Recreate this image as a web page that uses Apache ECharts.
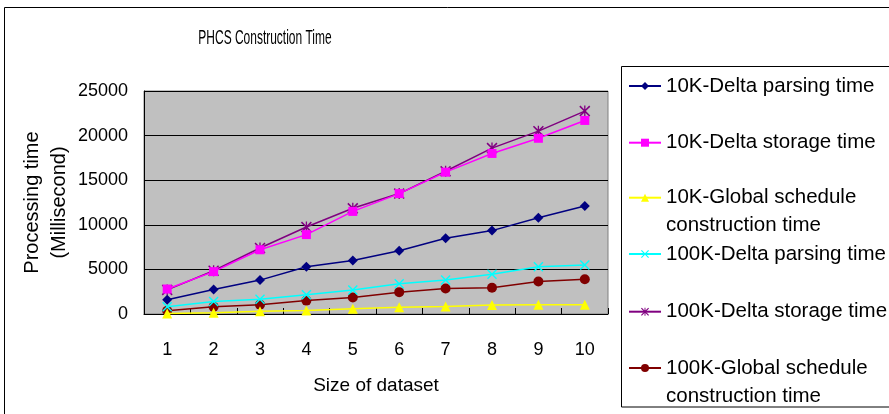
<!DOCTYPE html>
<html>
<head>
<meta charset="utf-8">
<script src="https://cdn.jsdelivr.net/npm/echarts@6/dist/echarts.min.js"></script>
<style>
html,body{margin:0;padding:0;background:#fff;}
#main{width:889px;height:414px;}
</style>
</head>
<body>
<div id="main"></div>
<script>
const titleText = 'PHCS Construction Time';
const categories = ['1','2','3','4','5','6','7','8','9','10'];
const yTicks = [0, 5000, 10000, 15000, 20000, 25000];
const names = [
  '10K-Delta parsing time',
  '10K-Delta storage time',
  '10K-Global schedule\nconstruction time',
  '100K-Delta parsing time',
  '100K-Delta storage time',
  '100K-Global schedule\nconstruction time'
];
const delta10kParsing = [1600, 2750, 3800, 5300, 6000, 7100, 8500, 9350, 10800, 12100];
const delta10kStorage = [2800, 4750, 7200, 8900, 11500, 13500, 15900, 18000, 19700, 21700];
const global10k = [50, 150, 300, 400, 600, 750, 850, 1000, 1050, 1050];
const delta100kParsing = [800, 1400, 1650, 2150, 2700, 3400, 3800, 4450, 5300, 5500];
const delta100kStorage = [2700, 4850, 7400, 9750, 11850, 13500, 16000, 18600, 20500, 22750];
const global100k = [370, 800, 1050, 1500, 1850, 2450, 2850, 2950, 3650, 3900];

const seriesData = [delta10kParsing, delta10kStorage, global10k, delta100kParsing, delta100kStorage, global100k];
const colors = ['#000080', '#FF00FF', '#FFFF00', '#00FFFF', '#800080', '#800000'];
const xPath = 'path://M0,1L1,0L5,4L9,0L10,1L6,5L10,9L9,10L5,6L1,10L0,9L4,5Z';
const starPath = 'path://M0,1L1,0L5,4L9,0L10,1L6,5L10,9L9,10L5,6L1,10L0,9L4,5ZM4.4,0L5.6,0L5.6,10L4.4,10Z';
const symbols = ['diamond', 'rect', 'triangle', xPath, starPath, 'circle'];
const symbolSizes = [10, 9, 10, 10, 11, 10];
const legendCenters = [86, 142.7, 197.7, 254, 311.7, 368];

const FONT = "'Liberation Sans', Arial, sans-serif";
const chart = echarts.init(document.getElementById('main'), null, {renderer: 'canvas'});

const series = names.map((n, i) => ({
  name: n,
  type: 'line',
  data: seriesData[i],
  symbol: symbols[i],
  symbolSize: symbolSizes[i],
  showAllSymbol: true,
  lineStyle: {color: colors[i], width: 1.5},
  itemStyle: {color: colors[i]},
  z: 10 - i,
  animation: false
}));

const legends = names.map((n, i) => {
  const twoLine = n.indexOf('\n') >= 0;
  return {
    data: [n],
    orient: 'vertical',
    left: 628,
    top: legendCenters[i] - (twoLine ? 42 : 14),
    padding: 0,
    itemWidth: 32,
    itemHeight: 10,
    itemGap: 0,
    selectedMode: false,
    formatter: (name) => twoLine ? '\n' + name : name,
    textStyle: {fontFamily: FONT, fontSize: 20.5, color: '#000', lineHeight: 28}
  };
});

const option = {
  animation: false,
  backgroundColor: '#fff',
  legend: legends,
  grid: {
    left: 144, top: 91, width: 464, height: 223,
    show: true, backgroundColor: '#C0C0C0', borderColor: '#808080', borderWidth: 1,
    containLabel: false
  },
  xAxis: {
    type: 'category',
    data: categories,
    boundaryGap: true,
    name: 'Size of dataset',
    nameLocation: 'middle',
    nameGap: 62,
    nameMoveOverlap: false,
    nameTextStyle: {fontFamily: FONT, fontSize: 19, color: '#000'},
    axisLine: {show: true, lineStyle: {color: '#000', width: 1}},
    axisTick: {show: true, inside: true, length: 6, alignWithLabel: false, lineStyle: {color: '#000'}},
    axisLabel: {fontFamily: FONT, fontSize: 18, color: '#000', margin: 27},
    splitLine: {show: false}
  },
  yAxis: {
    type: 'value',
    min: yTicks[0],
    max: yTicks[yTicks.length - 1],
    interval: yTicks[1] - yTicks[0],
    name: 'Processing time\n(Millisecond)',
    nameLocation: 'middle',
    nameRotate: 90,
    nameGap: 71,
    nameMoveOverlap: false,
    nameTextStyle: {fontFamily: FONT, fontSize: 20, color: '#000', lineHeight: 27},
    axisLine: {show: true, lineStyle: {color: '#000', width: 1}},
    axisTick: {show: false},
    axisLabel: {fontFamily: FONT, fontSize: 18, color: '#000', margin: 16, formatter: (v) => String(v)},
    splitLine: {show: true, lineStyle: {color: '#000', width: 1}}
  },
  graphic: [
    {type: 'rect', silent: true, shape: {x: 4.5, y: 7.5, width: 900, height: 420}, style: {fill: 'none', stroke: '#000', lineWidth: 1}},
    {type: 'rect', silent: true, shape: {x: 621.5, y: 66.5, width: 300, height: 340.5}, style: {fill: 'none', stroke: '#000', lineWidth: 1}},
    {type: 'text', silent: true, x: 265, y: 38, scaleX: 0.57, style: {text: titleText, fontFamily: FONT, fontSize: 21, fill: '#000', align: 'center', verticalAlign: 'middle'}}
  ],
  series: series
};
chart.setOption(option);
</script>
</body>
</html>
